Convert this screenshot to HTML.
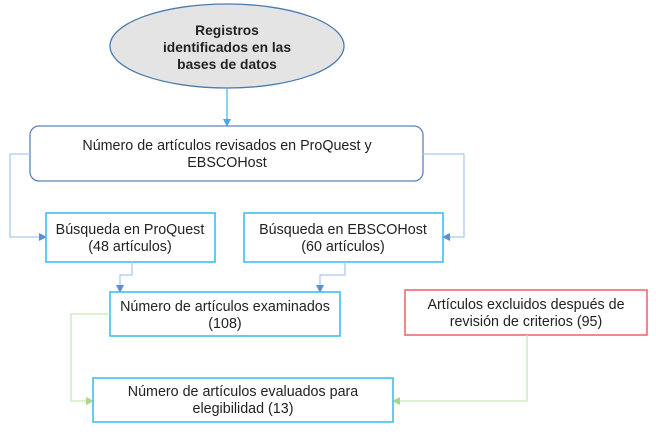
<!DOCTYPE html>
<html><head><meta charset="utf-8"><style>
html,body{margin:0;padding:0;background:#fff;}
svg text{font-family:"Liberation Sans",sans-serif;font-size:14.3px;fill:#222;}
</style></head><body>
<svg width="656" height="429" viewBox="0 0 656 429" xmlns="http://www.w3.org/2000/svg">
<defs>
<marker id="ab" markerWidth="8" markerHeight="8" refX="7" refY="4" orient="auto" markerUnits="userSpaceOnUse"><path d="M0,0 L8,4 L0,8 z" fill="#4aa8e8"/></marker>
<marker id="ab2" markerWidth="8" markerHeight="8" refX="7" refY="4" orient="auto" markerUnits="userSpaceOnUse"><path d="M0,0 L8,4 L0,8 z" fill="#5b8fd6"/></marker>
<marker id="ag" markerWidth="8" markerHeight="8" refX="7" refY="4" orient="auto" markerUnits="userSpaceOnUse"><path d="M0,0 L8,4 L0,8 z" fill="#a8d890"/></marker>
</defs>
<ellipse cx="227" cy="46" rx="117" ry="42" fill="#e4e4e4" stroke="#4a7bb0" stroke-width="1.3"/>
<text x="227" y="35" text-anchor="middle" font-weight="bold" style="font-size:13.8px">Registros</text>
<text x="227" y="52" text-anchor="middle" font-weight="bold" style="font-size:13.8px">identificados en las</text>
<text x="227" y="69" text-anchor="middle" font-weight="bold" style="font-size:13.8px">bases de datos</text>
<line x1="227" y1="88" x2="227" y2="126" stroke="#4ab8f0" stroke-width="1.3" marker-end="url(#ab)"/>
<rect x="30" y="126" width="393" height="55" rx="9" fill="#fff" stroke="#5f84b5" stroke-width="1.3"/>
<text x="227" y="150" text-anchor="middle">Número de artículos revisados en ProQuest y</text>
<text x="227" y="167" text-anchor="middle">EBSCOHost</text>
<polyline points="30,154 10,154 10,237 46,237" fill="none" stroke="#a9cbed" stroke-width="1.3" marker-end="url(#ab2)"/>
<polyline points="423,154 464,154 464,237 443,237" fill="none" stroke="#a9cbed" stroke-width="1.3" marker-end="url(#ab2)"/>
<rect x="46" y="213" width="169" height="49" fill="#fff" stroke="#3ec0ef" stroke-width="1.6"/>
<text x="130" y="234" text-anchor="middle">Búsqueda en ProQuest</text>
<text x="130" y="251" text-anchor="middle">(48 artículos)</text>
<rect x="244" y="213" width="199" height="49" fill="#fff" stroke="#3ec0ef" stroke-width="1.6"/>
<text x="343" y="234" text-anchor="middle">Búsqueda en EBSCOHost</text>
<text x="343" y="251" text-anchor="middle">(60 artículos)</text>
<polyline points="132,262 132,275 120,275 120,292" fill="none" stroke="#a9cbed" stroke-width="1.3" marker-end="url(#ab2)"/>
<polyline points="345,262 345,275 320,275 320,292" fill="none" stroke="#a9cbed" stroke-width="1.3" marker-end="url(#ab2)"/>
<rect x="110" y="292" width="230" height="44" fill="#fff" stroke="#3ec0ef" stroke-width="1.6"/>
<text x="225" y="311" text-anchor="middle">Número de artículos examinados</text>
<text x="225" y="328" text-anchor="middle">(108)</text>
<rect x="405" y="290" width="242" height="45" fill="#fff" stroke="#f06a6a" stroke-width="1.6"/>
<text x="526" y="309" text-anchor="middle">Artículos excluidos después de</text>
<text x="526" y="326" text-anchor="middle">revisión de criterios (95)</text>
<polyline points="110,314 71,314 71,401 93,401" fill="none" stroke="#c8e6b8" stroke-width="1.3" marker-end="url(#ag)"/>
<polyline points="527,335 527,401 393,401" fill="none" stroke="#c8e6b8" stroke-width="1.3" marker-end="url(#ag)"/>
<rect x="93" y="378" width="300" height="44" fill="#fff" stroke="#3ec0ef" stroke-width="1.6"/>
<text x="243" y="396" text-anchor="middle">Número de artículos evaluados para</text>
<text x="243" y="413" text-anchor="middle">elegibilidad (13)</text>
</svg>
</body></html>
